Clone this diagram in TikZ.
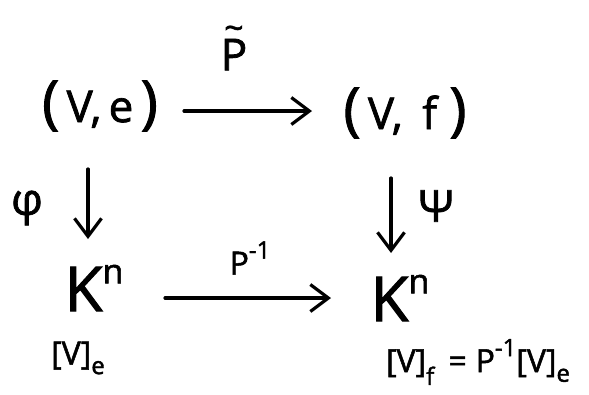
\documentclass[tikz,border=0pt]{standalone}
\usepackage{fontspec}
\setmainfont{Open Sans}[BoldFont={Open Sans}, BoldFeatures={FakeBold=1.6}]
\usetikzlibrary{arrows.meta,calc}
\tikzset{
  arr/.style={line width=3.2pt, line cap=round, -{Straight Barb[length=18pt,width=27pt]}},
  obj/.style={inner sep=0pt, font=\bfseries\fontsize{44}{44}\selectfont},
  kobj/.style={inner sep=0pt, font=\bfseries\fontsize{62}{62}\selectfont},
  lbl/.style={inner sep=0pt, font=\bfseries\fontsize{44}{44}\selectfont},
  small/.style={inner sep=0pt, font=\bfseries\fontsize{32}{32}\selectfont},
}
\newcommand\bigpar[1]{{\fontsize{58}{58}\selectfont #1}}
\newcommand\supx[1]{\raisebox{0.5em}{\fontsize{24}{24}\selectfont #1}}
\newcommand\subx[2]{\raisebox{#1}{\fontsize{24}{24}\selectfont #2}}
\begin{document}
\begin{tikzpicture}[x=1pt,y=-1pt]
\path[use as bounding box, fill=white] (0,0) rectangle (589,394);
\node[obj] (ve) at (100,106) {\bigpar{(}\,V,\,e\,\bigpar{)}};
\node[obj] (vf) at (405,113) {\bigpar{(}\,V,\;\,f\;\bigpar{)}};
\node[lbl] (pt) at (234,48) {\shortstack{{\fontsize{34}{34}\selectfont\textasciitilde}\\[-4pt]P}};
\node[obj] (phi) at (27,208) {φ};
\node[obj] (psi) at (436,206) {Ψ};
\node[kobj] (Kl) at (94,288) {K\raisebox{0.45em}{\fontsize{34}{34}\selectfont n}};
\node[kobj] (Kr) at (400,298) {K\raisebox{0.45em}{\fontsize{34}{34}\selectfont n}};
\node[small] (pinv) at (250,258) {P\supx{-1}};
\node[small] (ce) at (78,358) {[V]\subx{-0.3em}{e}};
\node[small] (cf) at (478,362) {[V]\subx{-0.4em}{f}\;\,=\;P\supx{-1}[V]\subx{-0.3em}{e}};
\draw[arr] ($(ve)+(84,5)$) -- ($(vf)+(-93,-2)$);
\draw[arr] ($(ve)+(-12,63)$) -- ($(Kl)+(-6,-49)$);
\draw[arr] ($(vf)+(-14,65)$) -- ($(Kr)+(-9,-45)$);
\draw[arr] ($(Kl)+(71,10)$) -- ($(Kr)+(-69,0)$);
\end{tikzpicture}
\end{document}
